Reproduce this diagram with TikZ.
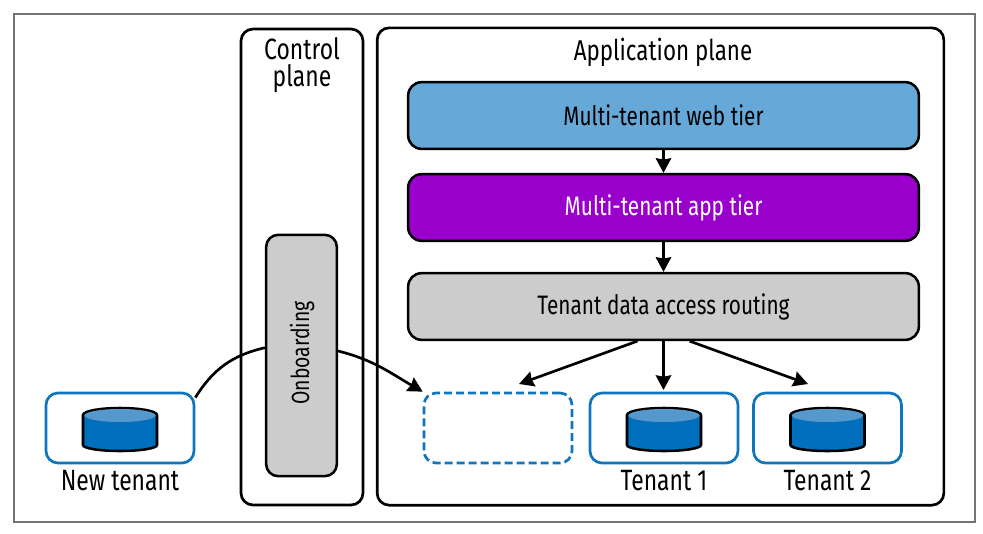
\documentclass[tikz,border=0pt]{standalone}
\usepackage{fontspec}
\setmainfont[FakeStretch=0.78]{Fira Sans}
\usetikzlibrary{arrows.meta}

\definecolor{webblue}{HTML}{66A9D8}
\definecolor{apppurple}{HTML}{9900CC}
\definecolor{routegray}{HTML}{CCCCCC}
\definecolor{tenantblue}{HTML}{0F75BC}
\definecolor{dbblue}{HTML}{0070BD}
\definecolor{dbtop}{HTML}{5599CC}

\tikzset{
    plane/.style={draw, line width=2pt, rounded corners=9pt, inner sep=0pt},
    tier/.style={draw, line width=1.9pt, rounded corners=10pt, inner sep=0pt,
        minimum width=383pt, minimum height=50pt, font=\fontsize{20}{22}\selectfont},
    tenant/.style={draw=tenantblue, line width=2pt, rounded corners=9pt,
        minimum width=111pt, minimum height=52.5pt, inner sep=0pt},
    label/.style={font=\fontsize{22}{20.5}\selectfont, inner sep=0pt, align=center},
    flow/.style={-{Stealth[length=11pt, width=11.5pt, inset=1pt]}, line width=2pt},
}

\begin{document}
\begin{tikzpicture}[x=0.75pt, y=-0.75pt]
    \useasboundingbox (0, 0) rectangle (983, 533);

    % Frame
    \draw[black!55, line width=1.1pt] (14, 14) rectangle (975, 522);

    % Planes
    \node[plane, minimum width=91.5pt, minimum height=357pt] (control) at (302, 267) {};
    \node[plane, minimum width=425pt, minimum height=358pt] (application) at (660.5, 266.5) {};
    \node[label] (controltext) at (302, 65) {Control\\plane};
    \node[label, font=\fontsize{21.5}{23}\selectfont] (applicationtext) at (663, 52) {Application plane};

    % Tiers
    \node[tier, fill=webblue] (web) at (663.5, 115.5) {Multi-tenant web tier};
    \node[tier, fill=apppurple, text=white] (app) at (663.5, 207.5) {Multi-tenant app tier};
    \node[tier, fill=routegray] (routing) at (663.5, 306.5) {Tenant data access routing};

    % Onboarding
    \node[plane, fill=routegray, line width=1.9pt, minimum width=53pt, minimum height=181pt] (onboarding) at (301.5, 355.5) {};
    \node[label, rotate=90, font=\fontsize{18.6}{20}\selectfont] (onboardingtext) at (302, 353) {Onboarding};

    % Tenants
    \node[tenant] (newtenant) at (120, 428) {};
    \node[tenant, dash pattern=on 6pt off 3pt] (slot) at (498, 428) {};
    \node[tenant] (tenantone) at (664, 428) {};
    \node[tenant] (tenanttwo) at (827.5, 428) {};
    \node[label] (newtenanttext) at (120, 481) {New tenant};
    \node[label] (tenantonetext) at (664, 481) {Tenant 1};
    \node[label] (tenanttwotext) at (827.5, 481) {Tenant 2};

    % Databases
    \foreach \dbx in {120, 664, 827.5} {
        \filldraw[fill=dbblue, line width=1.9pt] (\dbx-37, 415) -- (\dbx-37, 445)
            arc[start angle=180, end angle=0, x radius=37, y radius=6]
            -- (\dbx+37, 415)
            arc[start angle=0, end angle=-180, x radius=37, y radius=7] -- cycle;
        \fill[dbtop] (\dbx, 415.5) ellipse[x radius=35.5, y radius=6.5];
    }

    % Arrow ends
    \coordinate (slottip) at (519, 384);
    \coordinate (onetip) at (663.5, 390);
    \coordinate (twotip) at (808, 384);

    % Arrows
    \draw[flow] (web) -- (app);
    \draw[flow] (app) -- (routing);
    \draw[flow] (routing.south) -- (onetip);
    \draw[flow] (routing.-127) -- (slottip);
    \draw[flow] (routing.-53) -- (twotip);
    \draw[line width=2pt] (newtenant.22) to[out=58, in=193] (onboarding.168);
    \draw[flow] (onboarding.7) to[out=-14, in=150] (slot.north west);
\end{tikzpicture}
\end{document}
